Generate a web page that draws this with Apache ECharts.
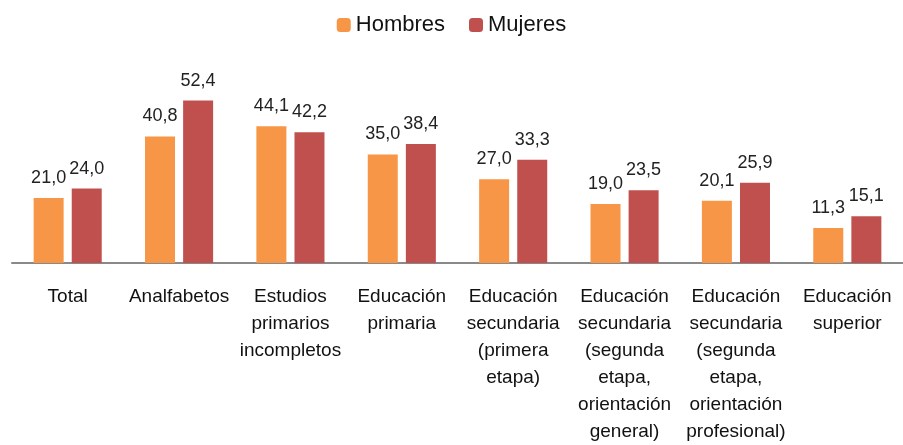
<!DOCTYPE html>
<html>
<head>
<meta charset="utf-8">
<script src="https://cdn.jsdelivr.net/npm/echarts@6/dist/echarts.min.js"></script>
<style>
  html, body { margin: 0; padding: 0; background: #fff; }
  #main { width: 903px; height: 445px; }
</style>
</head>
<body>
<div id="main"></div>
<script>
// categorías del eje x
const categorias = [
  'Total',
  'Analfabetos',
  'Estudios\nprimarios\nincompletos',
  'Educación\nprimaria',
  'Educación\nsecundaria\n(primera\netapa)',
  'Educación\nsecundaria\n(segunda\netapa,\norientación\ngeneral)',
  'Educación\nsecundaria\n(segunda\netapa,\norientación\nprofesional)',
  'Educación\nsuperior'
];
const hombres = [21.0, 40.8, 44.1, 35.0, 27.0, 19.0, 20.1, 11.3];
const mujeres = [24.0, 52.4, 42.2, 38.4, 33.3, 23.5, 25.9, 15.1];

const fuente = "'Liberation Sans Narrow', 'Arial Narrow', 'Liberation Sans', sans-serif";
const chart = echarts.init(document.getElementById('main'));

const etiqueta = {
  show: true,
  position: 'top',
  distance: 11,
  color: '#222',
  fontSize: 18,
  fontFamily: fuente,
  formatter: p => p.value.toFixed(1).replace('.', ',')
};

chart.setOption({
  animation: false,
  legend: {
    top: 9,
    left: 'center',
    itemWidth: 14,
    itemHeight: 14,
    itemGap: 24,
    textStyle: { fontSize: 22, fontFamily: fuente, color: '#111' },
    data: ['Hombres', 'Mujeres']
  },
  grid: { left: 12, right: 0, top: 77, bottom: 182 },
  xAxis: {
    type: 'category',
    data: categorias,
    axisLine: { lineStyle: { color: '#898989', width: 2 } },
    axisTick: { show: false },
    axisLabel: {
      interval: 0,
      margin: 20,
      fontSize: 19,
      lineHeight: 27,
      color: '#111',
      fontFamily: fuente
    }
  },
  yAxis: {
    type: 'value',
    min: 0,
    max: 60,
    show: false,
    splitLine: { show: false }
  },
  series: [
    {
      name: 'Hombres',
      type: 'bar',
      data: hombres,
      barWidth: 30,
      barGap: '27%',
      itemStyle: { color: '#F79646' },
      label: etiqueta
    },
    {
      name: 'Mujeres',
      type: 'bar',
      data: mujeres,
      barWidth: 30,
      itemStyle: { color: '#C0504D' },
      label: etiqueta
    }
  ]
});
</script>
</body>
</html>
